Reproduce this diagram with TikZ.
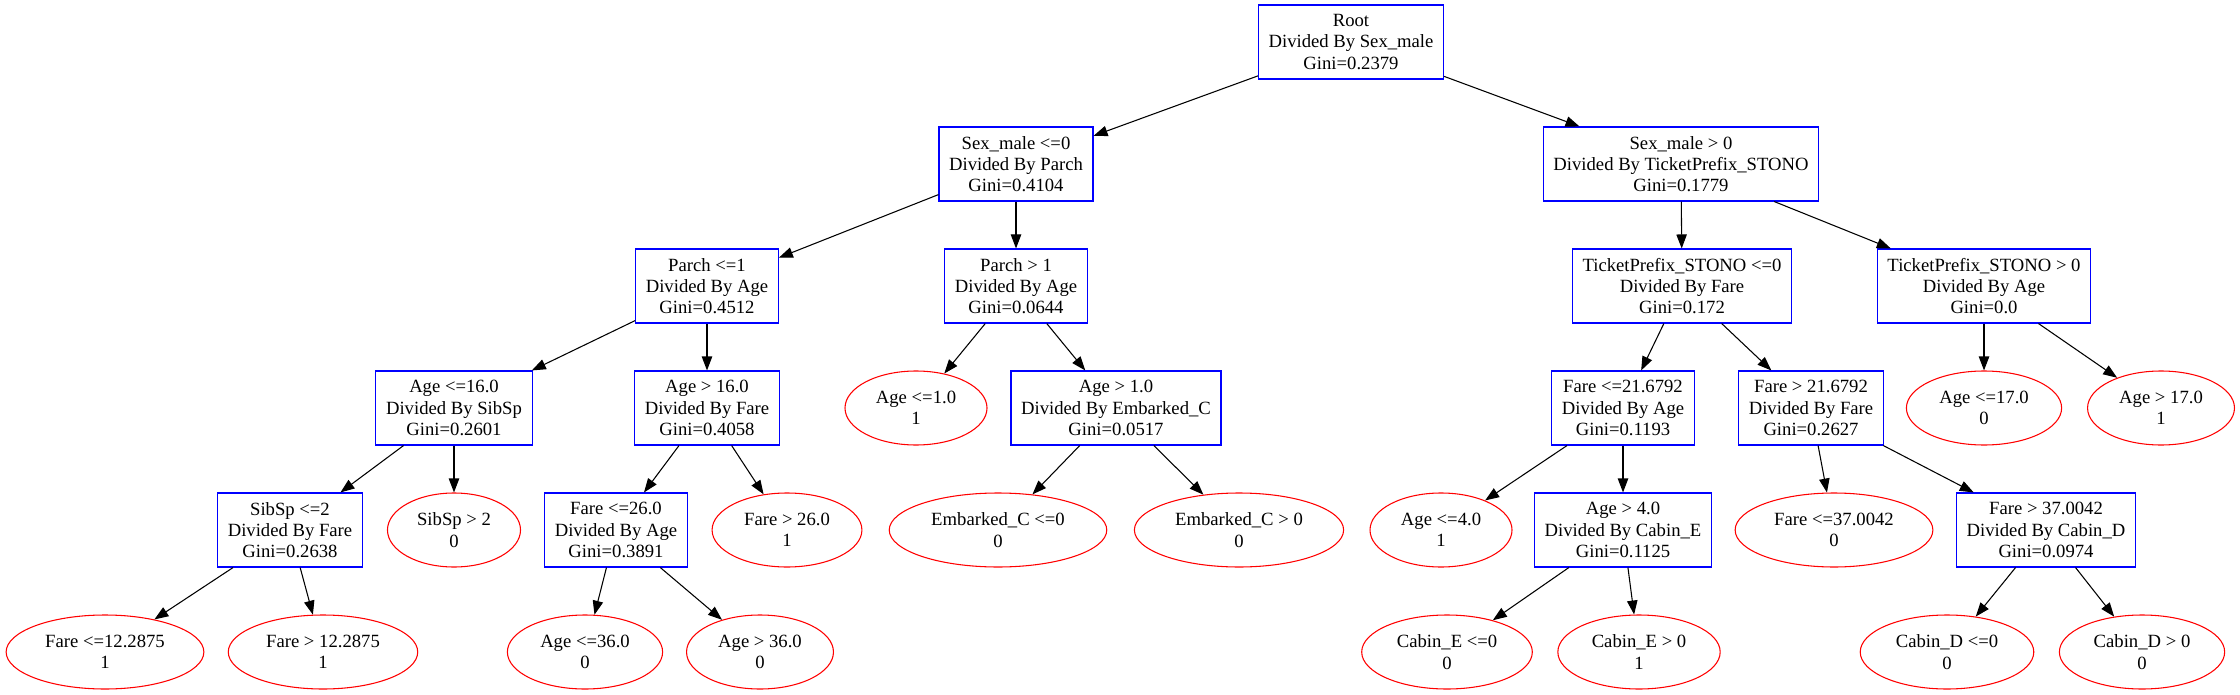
\documentclass[tikz,border=0pt]{standalone}
\usepackage{fontspec}
\setmainfont{Liberation Serif}
\usetikzlibrary{shapes.geometric,arrows.meta}

\tikzset{
  split/.style={draw=blue, rectangle, minimum height=55.5pt, inner xsep=7.6pt, align=center},
  leaf/.style={draw=red, ellipse, minimum height=55.5pt, inner xsep=7.6pt, inner ysep=3.75pt, align=center}
}

\begin{document}
\begin{tikzpicture}[x=0.75pt, y=-0.75pt, line width=0.8pt,
    font=\fontsize{14pt}{16pt}\selectfont,
    >={Triangle[length=10.5pt, width=7.8pt]}]
  \def\ysep{122}
  \def\ytop{42}

  \useasboundingbox[fill=white] (0, 0) rectangle (2240, 695);

  \node[split] (root) at (1351, {\ytop}) {Root\\Divided By Sex\_male\\Gini=0.2379};

  \node[split] (sexle) at (1016, {\ytop+1*\ysep}) {Sex\_male <=0\\Divided By Parch\\Gini=0.4104};
  \node[split] (sexgt) at (1681, {\ytop+1*\ysep}) {Sex\_male > 0\\Divided By TicketPrefix\_STONO\\Gini=0.1779};

  \node[split] (parle) at (707,  {\ytop+2*\ysep}) {Parch <=1\\Divided By Age\\Gini=0.4512};
  \node[split] (pargt) at (1016, {\ytop+2*\ysep}) {Parch > 1\\Divided By Age\\Gini=0.0644};
  \node[split] (tkle)  at (1682, {\ytop+2*\ysep}) {TicketPrefix\_STONO <=0\\Divided By Fare\\Gini=0.172};
  \node[split] (tkgt)  at (1984, {\ytop+2*\ysep}) {TicketPrefix\_STONO > 0\\Divided By Age\\Gini=0.0};

  \node[split] (agele16)  at (454,  {\ytop+3*\ysep}) {Age <=16.0\\Divided By SibSp\\Gini=0.2601};
  \node[split] (agegt16)  at (707,  {\ytop+3*\ysep}) {Age > 16.0\\Divided By Fare\\Gini=0.4058};
  \node[leaf]  (agele1)   at (916,  {\ytop+3*\ysep}) {Age <=1.0\\1};
  \node[split] (agegt1)   at (1116, {\ytop+3*\ysep}) {Age > 1.0\\Divided By Embarked\_C\\Gini=0.0517};
  \node[split] (farele21) at (1623, {\ytop+3*\ysep}) {Fare <=21.6792\\Divided By Age\\Gini=0.1193};
  \node[split] (faregt21) at (1811, {\ytop+3*\ysep}) {Fare > 21.6792\\Divided By Fare\\Gini=0.2627};
  \node[leaf]  (agele17)  at (1984, {\ytop+3*\ysep}) {Age <=17.0\\0};
  \node[leaf]  (agegt17)  at (2161, {\ytop+3*\ysep}) {Age > 17.0\\1};

  \node[split] (sible)    at (290,  {\ytop+4*\ysep}) {SibSp <=2\\Divided By Fare\\Gini=0.2638};
  \node[leaf]  (sibgt)    at (454,  {\ytop+4*\ysep}) {SibSp > 2\\0};
  \node[split] (farele26) at (616,  {\ytop+4*\ysep}) {Fare <=26.0\\Divided By Age\\Gini=0.3891};
  \node[leaf]  (faregt26) at (787,  {\ytop+4*\ysep}) {Fare > 26.0\\1};
  \node[leaf]  (emble)    at (998,  {\ytop+4*\ysep}) {Embarked\_C <=0\\0};
  \node[leaf]  (embgt)    at (1239, {\ytop+4*\ysep}) {Embarked\_C > 0\\0};
  \node[leaf]  (agele4)   at (1441, {\ytop+4*\ysep}) {Age <=4.0\\1};
  \node[split] (agegt4)   at (1623, {\ytop+4*\ysep}) {Age > 4.0\\Divided By Cabin\_E\\Gini=0.1125};
  \node[leaf]  (farele37) at (1834, {\ytop+4*\ysep}) {Fare <=37.0042\\0};
  \node[split] (faregt37) at (2046, {\ytop+4*\ysep}) {Fare > 37.0042\\Divided By Cabin\_D\\Gini=0.0974};

  \node[leaf] (farele12) at (105,  {\ytop+5*\ysep}) {Fare <=12.2875\\1};
  \node[leaf] (faregt12) at (323,  {\ytop+5*\ysep}) {Fare > 12.2875\\1};
  \node[leaf] (agele36)  at (585,  {\ytop+5*\ysep}) {Age <=36.0\\0};
  \node[leaf] (agegt36)  at (760,  {\ytop+5*\ysep}) {Age > 36.0\\0};
  \node[leaf] (cable)    at (1447, {\ytop+5*\ysep}) {Cabin\_E <=0\\0};
  \node[leaf] (cabgt)    at (1639, {\ytop+5*\ysep}) {Cabin\_E > 0\\1};
  \node[leaf] (cdle)     at (1947, {\ytop+5*\ysep}) {Cabin\_D <=0\\0};
  \node[leaf] (cdgt)     at (2142, {\ytop+5*\ysep}) {Cabin\_D > 0\\0};

  \draw[->] (root) edge (sexle);
  \draw[->] (root) edge (sexgt);

  \draw[->] (sexle) edge (parle);
  \draw[->] (sexle) edge (pargt);
  \draw[->] (sexgt) edge (tkle);
  \draw[->] (sexgt) edge (tkgt);

  \draw[->] (parle) edge (agele16);
  \draw[->] (parle) edge (agegt16);
  \draw[->] (pargt) edge (agele1);
  \draw[->] (pargt) edge (agegt1);
  \draw[->] (tkle) edge (farele21);
  \draw[->] (tkle) edge (faregt21);
  \draw[->] (tkgt) edge (agele17);
  \draw[->] (tkgt) edge (agegt17);

  \draw[->] (agele16) edge (sible);
  \draw[->] (agele16) edge (sibgt);
  \draw[->] (agegt16) edge (farele26);
  \draw[->] (agegt16) edge (faregt26);
  \draw[->] (agegt1) edge (emble);
  \draw[->] (agegt1) edge (embgt);
  \draw[->] (farele21) edge (agele4);
  \draw[->] (farele21) edge (agegt4);
  \draw[->] (faregt21) edge (farele37);
  \draw[->] (faregt21) edge (faregt37);

  \draw[->] (sible) edge (farele12);
  \draw[->] (sible) edge (faregt12);
  \draw[->] (farele26) edge (agele36);
  \draw[->] (farele26) edge (agegt36);
  \draw[->] (agegt4) edge (cable);
  \draw[->] (agegt4) edge (cabgt);
  \draw[->] (faregt37) edge (cdle);
  \draw[->] (faregt37) edge (cdgt);
\end{tikzpicture}
\end{document}
